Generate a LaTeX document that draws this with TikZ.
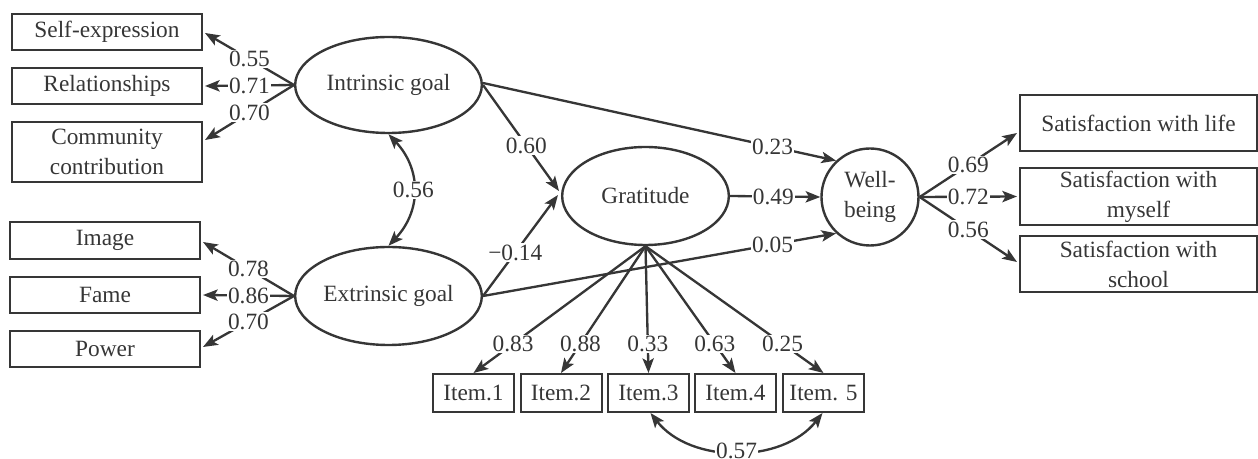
\documentclass[tikz,border=0pt]{standalone}
\usepackage{fontspec}
\setmainfont{Liberation Serif}
\usetikzlibrary{arrows.meta,calc,shapes.geometric}
\definecolor{ink}{HTML}{363636}
\tikzset{
  every node/.style={text=ink, font=\fontsize{17.5}{22.5}\selectfont},
  box/.style={draw=ink, line width=1.5pt, rectangle, inner sep=0pt, align=center},
  latent/.style={draw=ink, line width=1.8pt, ellipse, inner sep=0pt, align=center},
  link/.style={draw=ink, line width=1.75pt, -{Stealth[length=11pt,width=8.5pt,inset=2.5pt]}},
  cov/.style={draw=ink, line width=1.75pt, {Stealth[length=11pt,width=8.5pt,inset=2.5pt]}-{Stealth[length=11pt,width=8.5pt,inset=2.5pt]}},
  coef/.style={fill=white, inner sep=1pt},
}
\begin{document}
\begin{tikzpicture}[x=0.75pt,y=-0.75pt]
\useasboundingbox (0,0) rectangle (1258,459);

% indicators of the intrinsic goal
\node[box, minimum width=142.5pt, minimum height=27pt] (se) at (107,32) {Self-expression};
\node[box, minimum width=142.5pt, minimum height=27pt] (rel) at (107,86) {Relationships};
\node[box, minimum width=142.5pt, minimum height=45pt] (cc) at (107,152) {Community\\contribution};

% indicators of the extrinsic goal
\node[box, minimum width=142.5pt, minimum height=27.5pt] (img) at (105,240.5) {Image};
\node[box, minimum width=142.5pt, minimum height=27pt] (fame) at (105,295) {Fame};
\node[box, minimum width=142.5pt, minimum height=27pt] (pow) at (105,349) {Power};

% latent variables
\node[latent, minimum width=140pt, minimum height=72pt] (ig) at (388.5,85) {Intrinsic goal};
\node[latent, minimum width=140pt, minimum height=73.5pt] (eg) at (388.5,296) {Extrinsic goal};
\node[latent, minimum width=125pt, minimum height=73.5pt] (gr) at (645.5,196) {Gratitude};
\node[draw=ink, line width=1.8pt, circle, inner sep=0pt, minimum size=72.75pt, align=center] (wb) at (870,197) {Well-\\being};

% well-being indicators
\node[box, minimum width=177.75pt, minimum height=42pt] (sl) at (1138.5,123) {Satisfaction with life};
\node[box, minimum width=177.75pt, minimum height=42.75pt] (sm) at (1138.5,196.5) {Satisfaction with\\myself};
\node[box, minimum width=177.75pt, minimum height=42pt] (ss) at (1138.5,264) {Satisfaction with\\school};

% gratitude items
\node[box, minimum width=60.75pt, minimum height=28.5pt] (i1) at (473.5,393) {Item.1};
\node[box, minimum width=60.75pt, minimum height=28.5pt] (i2) at (561,393) {Item.2};
\node[box, minimum width=60.75pt, minimum height=28.5pt] (i3) at (648.5,393) {Item.3};
\node[box, minimum width=60.75pt, minimum height=28.5pt] (i4) at (735.5,393) {Item.4};
\node[box, minimum width=60.75pt, minimum height=28.5pt] (i5) at (823.5,393) {Item. 5};

% loadings of the goals
\draw[link] (ig.west) -- node[coef, pos=0.5] {0.55} ($(se.east)+(2,1)$);
\draw[link] (ig.west) -- node[coef, pos=0.5] {0.71} ($(rel.east)+(2,0)$);
\draw[link] (ig.west) -- node[coef, pos=0.5] {0.70} ($(cc.east)+(2,-12)$);
\draw[link] (eg.west) -- node[coef, pos=0.5] {0.78} ($(img.east)+(2,1.5)$);
\draw[link] (eg.west) -- node[coef, pos=0.5] {0.86} ($(fame.east)+(2,0)$);
\draw[link] (eg.west) -- node[coef, pos=0.5] {0.70} ($(pow.east)+(2,-2)$);

% structural paths
\draw[link] (ig.east) -- node[coef, pos=0.57] {0.60} ($(gr.west)+(-2,-5)$);
\draw[link] (eg.east) -- node[coef, pos=0.43] {\char"2212 0.14} ($(gr.west)+(-3,-1)$);
\draw[link] ($(ig.east)+(0,-2)$) -- node[coef, pos=0.82] {0.23} (wb.133);
\draw[link] (eg.east) -- node[coef, pos=0.82] {0.05} (wb.227);
\draw[link] (gr.east) -- node[coef, pos=0.48] {0.49} (wb.west);

% loadings of well-being
\draw[link] (wb.east) -- node[coef, pos=0.5] {0.69} ($(sl.west)+(-2,10)$);
\draw[link] (wb.east) -- node[coef, pos=0.5] {0.72} ($(sm.west)+(-2,0)$);
\draw[link] (wb.east) -- node[coef, pos=0.5] {0.56} ($(ss.west)+(-2,-2)$);

% loadings of gratitude
\draw[link] (gr.south) -- node[coef, pos=0.77] {0.83} (i1.north);
\draw[link] (gr.south) -- node[coef, pos=0.77] {0.88} (i2.north);
\draw[link] (gr.south) -- node[coef, pos=0.77] {0.33} (i3.north);
\draw[link] (gr.south) -- node[coef, pos=0.77] {0.63} (i4.north);
\draw[link] (gr.south) -- node[coef, pos=0.77] {0.25} (i5.north);

% covariances
\draw[cov] (ig.south) .. controls +(33,35) and +(33,-35) .. (eg.north) node[coef, pos=0.5] {0.56};
\draw[cov] ($(i3.south)+(2,0)$) .. controls +(40,51) and +(-40,51) .. ($(i5.south)+(-1,0)$) node[coef, pos=0.5] {0.57};
\end{tikzpicture}
\end{document}
